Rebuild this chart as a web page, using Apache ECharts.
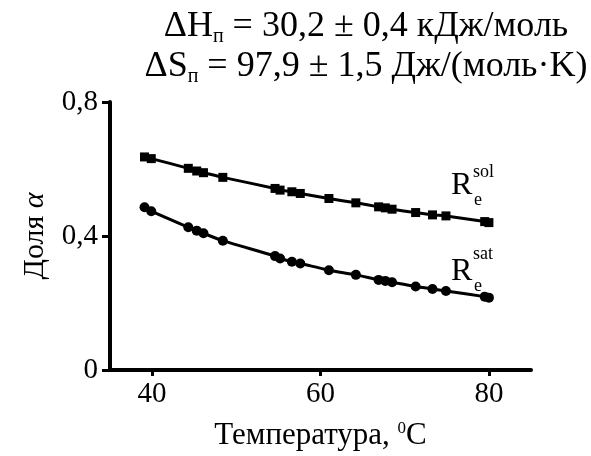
<!DOCTYPE html>
<html>
<head>
<meta charset="utf-8">
<script src="https://cdn.jsdelivr.net/npm/echarts@6/dist/echarts.min.js"></script>
<style>
  html, body { margin: 0; padding: 0; background: #fff; }
  #chart { width: 591px; height: 456px; }
</style>
</head>
<body>
<div id="chart"></div>
<script>
var temps = [39.1, 39.9, 44.3, 45.3, 46.1, 48.4, 54.6, 55.2, 56.6, 57.6, 61.0, 64.2, 66.9, 67.7, 68.5, 71.3, 73.3, 74.9, 79.5, 80.0];
var solValues = [0.636, 0.631, 0.602, 0.594, 0.589, 0.575, 0.542, 0.537, 0.532, 0.527, 0.512, 0.499, 0.487, 0.484, 0.480, 0.470, 0.463, 0.460, 0.443, 0.440];
var satValues = [0.486, 0.474, 0.426, 0.416, 0.408, 0.386, 0.340, 0.333, 0.323, 0.318, 0.298, 0.284, 0.269, 0.266, 0.262, 0.249, 0.242, 0.236, 0.219, 0.216];
var xTicks = [40, 60, 80];
var yTicks = [0, 0.4, 0.8];

function pairs(xs, ys) {
    return xs.map(function (x, i) { return [x, ys[i]]; });
}

var FONT = '"Liberation Serif", "DejaVu Serif", serif';
var chart = echarts.init(document.getElementById('chart'));

var option = {
    backgroundColor: '#fff',
    animation: false,
    title: {
        text: '{a|ΔH}{s|п}{a| = 30,2 ± 0,4 кДж/моль}\n{a|ΔS}{s|п}{a| = 97,9 ± 1,5 Дж/(моль·K)}',
        left: 361,
        top: 2,
        textAlign: 'center',
        textStyle: {
            rich: {
                a: { fontFamily: FONT, fontSize: 36, fontWeight: 'normal', color: '#000', lineHeight: 40 },
                s: { fontFamily: FONT, fontSize: 20, fontWeight: 'normal', color: '#000', lineHeight: 36, verticalAlign: 'bottom' }
            }
        }
    },
    grid: { left: 110, right: 60, top: 102, bottom: 86 },
    xAxis: {
        type: 'value',
        min: 35,
        max: 85,
        name: '{a|Температура, }{s|0}{a|C}',
        nameLocation: 'middle',
        nameGap: 50,
        nameTextStyle: {
            rich: {
                a: { fontFamily: FONT, fontSize: 31, color: '#000' },
                s: { fontFamily: FONT, fontSize: 17, color: '#000', verticalAlign: 'top', padding: [0, 0, 12, 0] }
            }
        },
        axisLine: { onZero: false, lineStyle: { color: '#000', width: 4 } },
        axisTick: { customValues: xTicks, length: 6, lineStyle: { color: '#000', width: 3 } },
        axisLabel: { customValues: xTicks, margin: 10, fontFamily: FONT, fontSize: 29, color: '#000' },
        splitLine: { show: false }
    },
    yAxis: {
        type: 'value',
        min: 0,
        max: 0.8,
        name: '{a|Доля }{i|α}',
        nameLocation: 'middle',
        nameGap: 60,
        nameTextStyle: {
            rich: {
                a: { fontFamily: FONT, fontSize: 30, color: '#000' },
                i: { fontFamily: FONT, fontSize: 30, color: '#000', fontStyle: 'italic' }
            }
        },
        axisLine: { lineStyle: { color: '#000', width: 4 } },
        axisTick: { customValues: yTicks, length: 8, lineStyle: { color: '#000', width: 3 } },
        axisLabel: {
            customValues: yTicks, margin: 12, fontFamily: FONT, fontSize: 29, color: '#000',
            formatter: function (v) { return String(v).replace('.', ','); }
        },
        splitLine: { show: false }
    },
    series: [
        {
            name: 'sol',
            type: 'line',
            data: pairs(temps, solValues),
            smooth: 0.3,
            symbol: 'rect',
            symbolSize: 9,
            itemStyle: { color: '#000' },
            lineStyle: { color: '#000', width: 3 }
        },
        {
            name: 'sat',
            type: 'line',
            data: pairs(temps, satValues),
            smooth: 0.3,
            symbol: 'circle',
            symbolSize: 10,
            itemStyle: { color: '#000' },
            lineStyle: { color: '#000', width: 3 }
        }
    ],
    graphic: [
        { type: 'text', left: 451, top: 170, style: { text: 'R', font: '32px ' + FONT, fill: '#000' } },
        { type: 'text', left: 473, top: 163, style: { text: 'sol', font: '18px ' + FONT, fill: '#000' } },
        { type: 'text', left: 474, top: 191, style: { text: 'e', font: '18px ' + FONT, fill: '#000' } },
        { type: 'text', left: 451, top: 256, style: { text: 'R', font: '32px ' + FONT, fill: '#000' } },
        { type: 'text', left: 473, top: 245, style: { text: 'sat', font: '18px ' + FONT, fill: '#000' } },
        { type: 'text', left: 474, top: 277, style: { text: 'e', font: '18px ' + FONT, fill: '#000' } }
    ]
};

chart.setOption(option);
</script>
</body>
</html>
